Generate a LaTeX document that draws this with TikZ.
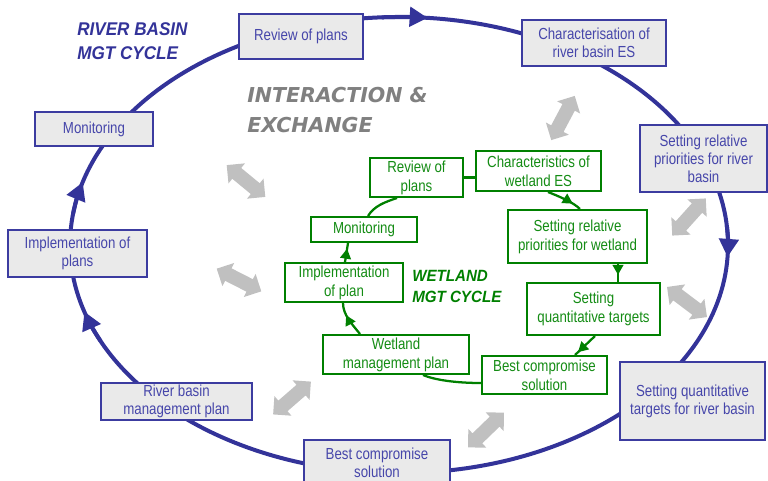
\documentclass[tikz,border=0pt]{standalone}
\usepackage{fontspec}
\setmainfont{Liberation Sans}[FakeStretch=0.83]
\newfontfamily\tfont{Liberation Sans}[FakeStretch=0.93]
\newfontfamily\ifont{DejaVu Sans}
\usetikzlibrary{arrows.meta,calc,decorations.markings}
\definecolor{rbline}{RGB}{51,51,153}
\definecolor{rbtext}{RGB}{70,70,170}
\definecolor{rbdraw}{RGB}{60,60,160}
\definecolor{rbfill}{RGB}{234,234,234}
\definecolor{wgreen}{RGB}{0,128,0}
\definecolor{wtext}{RGB}{20,140,20}
\definecolor{agray}{RGB}{192,192,192}
\definecolor{igray}{RGB}{128,128,128}
\begin{document}
\begin{tikzpicture}[x=0.75pt,y=-0.75pt,
 rbox/.style={draw=rbdraw, line width=1.2pt, fill=rbfill, text=rbtext, inner sep=0pt, align=center, font=\fontsize{12}{13.6}\selectfont},
 wbox/.style={draw=wgreen, line width=1.5pt, fill=white, text=wtext, inner sep=0pt, align=center, font=\fontsize{12}{14.2}\selectfont},
 wline/.style={color=wgreen, line width=1.7pt},
 warr/.style={postaction={decorate}, decoration={markings, mark=at position #1 with {\arrow{Triangle[length=7.5pt,width=8pt]}}}},
 rbarr/.style={draw=rbline, color=rbline, line width=3pt, -{Triangle[length=13.5pt,width=14.5pt]}},
 dbl/.pic={\fill[agray] (25,0) -- (12,13) -- (12,7) -- (-12,7) -- (-12,13) -- (-25,0) -- (-12,-13) -- (-12,-7) -- (12,-7) -- (12,-13) -- cycle;}
]
\useasboundingbox (0,0) rectangle (768,480);
\clip (0,0) rectangle (768,480);

% outer cycle
\draw[rbline, line width=3pt] (399,245) ellipse [x radius=329, y radius=228];
\draw[rbarr] (399,245) ++(-93:329 and 228) arc[start angle=-93, end angle=-85, x radius=329, y radius=228];
\draw[rbarr] (399,245) ++(-5:329 and 228) arc[start angle=-5, end angle=3, x radius=329, y radius=228];
\draw[rbarr] (399,245) ++(155:329 and 228) arc[start angle=155, end angle=163, x radius=329, y radius=228];
\draw[rbarr] (399,245) ++(188:329 and 228) arc[start angle=188, end angle=196, x radius=329, y radius=228];

\node[rbox, minimum width=93pt, minimum height=33.75pt] (rv) at (301,36.5) {Review of plans};
\node[rbox, minimum width=108pt, minimum height=34.5pt] (ch) at (594,43) {Characterisation of\\river basin ES};
\node[rbox, minimum width=95.25pt, minimum height=50.25pt] (sr) at (703.5,158.5) {Setting relative\\priorities for river\\basin};
\node[rbox, minimum width=108.75pt, minimum height=58.5pt] (sq) at (692.5,401) {Setting quantitative\\targets for river basin};
\node[rbox, minimum width=109.5pt, minimum height=34.5pt] (bc) at (377,463) {Best compromise\\solution};
\node[rbox, minimum width=113.25pt, minimum height=27.75pt] (rb) at (176.5,401.5) {River basin\\management plan};
\node[rbox, minimum width=104.25pt, minimum height=35.25pt] (im) at (77.5,253.5) {Implementation of\\plans};
\node[rbox, minimum width=88.5pt, minimum height=25.5pt] (mo) at (94,129) {Monitoring};

% titles
\node[anchor=west, align=left, inner sep=0pt, text=rbline, font=\tfont\fontsize{13.8}{18.5}\selectfont\bfseries\itshape] (t1) at (77,41) {RIVER BASIN\\MGT CYCLE};
\node[anchor=west, align=left, inner sep=0pt, text=igray, font=\ifont\fontsize{15.4}{23.2}\selectfont\bfseries\itshape] (t2) at (247,110) {INTERACTION \&\\EXCHANGE};
\node[anchor=west, align=left, inner sep=0pt, text=wgreen, font=\tfont\fontsize{12.2}{15.75}\selectfont\bfseries\itshape] (t3) at (412,286.5) {WETLAND\\MGT CYCLE};

% exchange arrows
\pic[rotate=62] at (563,118) {dbl};
\pic[rotate=-39.5] at (246,181) {dbl};
\pic[rotate=-27] at (239,280) {dbl};
\pic[rotate=41] at (292,398) {dbl};
\pic[rotate=44] at (486,430) {dbl};
\pic[rotate=-37] at (687,302) {dbl};
\pic[rotate=48] at (689,217) {dbl};

% wetland cycle
\node[wbox, minimum width=69.75pt, minimum height=29.25pt] (gRv) at (416.5,177.5) {Review of\\plans};
\node[wbox, minimum width=93.75pt, minimum height=30pt] (gCh) at (538.5,171) {Characteristics of\\wetland ES};
\node[wbox, minimum width=79.5pt, minimum height=18.75pt] (gMo) at (364,229.5) {Monitoring};
\node[wbox, minimum width=104.25pt, minimum height=39.75pt] (gSr) at (577.5,236.5) {Setting relative\\priorities for wetland};
\node[wbox, minimum width=99.75pt, minimum height=39pt] (gSq) at (593.5,309) {Setting\\quantitative targets};
\node[wbox, minimum width=93.75pt, minimum height=28.5pt] (gBc) at (544.5,375) {Best compromise\\solution};
\node[wbox, minimum width=109.5pt, minimum height=29.25pt] (gWm) at (396,354.5) {Wetland\\management plan};
\node[wbox, minimum width=88.5pt, minimum height=29.25pt] (gIm) at (344,282.5) {Implementation\\of plan};

\coordinate (p1) at ($(gSr.south)+(40.5,0)$);
\draw[wline, warr=0.75] ($(gCh.south)+(9.5,0)$) .. controls +(10,4) and +(-7,-7) .. ($(gSr.north)+(2.5,0)$);
\draw[wline, warr=0.6] (p1) -- (p1 |- gSq.north);
\draw[wline, warr=0.85] ($(gSq.south)+(1.5,0)$) -- ($(gBc.north)+(30.5,0)$);
\draw[wline] ($(gBc.west)+(0,8)$) .. controls +(-25,0) and +(12,5) .. ($(gWm.south)+(27,0)$);
\draw[wline, warr=0.65] ($(gWm.north)+(-36,0)$) .. controls +(-8,-10) and +(0,12) .. ($(gIm.south)+(-1,0)$);
\draw[wline, warr=0.7] ($(gIm.north)+(1,0)$) -- ($(gMo.south)+(-16,0)$);
\draw[wline] ($(gMo.north)+(4,0)$) .. controls +(6,-10) and +(-12,4) .. ($(gRv.south)+(-19.5,0)$);
\draw[wline] (gRv.east) -- (gRv.east -| gCh.west);
\end{tikzpicture}
\end{document}
